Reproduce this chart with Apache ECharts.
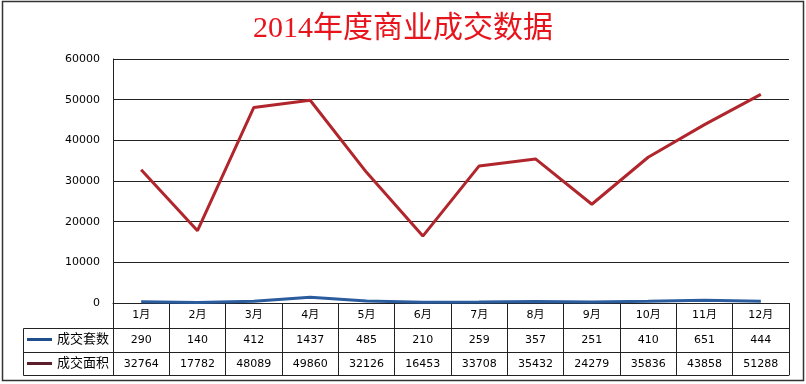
<!DOCTYPE html>
<html><head><meta charset="utf-8">
<script src="https://cdn.jsdelivr.net/npm/echarts@6/dist/echarts.min.js"></script>
<style>html,body{margin:0;padding:0;background:#fff}#c{width:806px;height:384px}</style>
</head><body><div id="c"></div>
<script>
const titleText = '2014年度商业成交数据';
const months = ['1月','2月','3月','4月','5月','6月','7月','8月','9月','10月','11月','12月'];
const seriesNames = ['成交套数','成交面积'];
const units = [290,140,412,1437,485,210,259,357,251,410,651,444];
const areas = [32764,17782,48089,49860,32126,16453,33708,35432,24279,35836,43858,51288];
const yMin = 0, yMax = 60000, yStep = 10000;

const numFont = 'DejaVu Sans';
const cjkFont = '"DejaVu Sans","Noto Sans CJK SC"';
const lineCol = '#222';

const chart = echarts.init(document.getElementById('c'), null, {renderer:'canvas'});
const baseX = (extra) => Object.assign({
  type:'category', gridIndex:0, position:'bottom', boundaryGap:true,
  axisLine:{show:true, lineStyle:{color:lineCol, width:1}},
  axisTick:{show:false},
  axisLabel:{margin:7, fontSize:11, color:'#000', fontFamily:cjkFont, interval:0},
  splitLine:{show:false}
}, extra);
const legendCommon = {left:27, orient:'vertical', padding:0, itemWidth:25, itemHeight:3, itemGap:0, icon:'rect',
  textStyle:{fontSize:13, color:'#000', fontFamily:cjkFont}};

chart.setOption({
  animation:false,
  backgroundColor:'#fff',
  title:{text:titleText, left:'center', top:9,
    textStyle:{fontSize:30, fontWeight:'normal', color:'#E8141C',
      fontFamily:'"Liberation Serif","Noto Sans CJK SC"'}},
  grid:{left:113, right:17, top:59, bottom:81, containLabel:false},
  legend:[
    Object.assign({top:333, data:[{name:seriesNames[0], itemStyle:{color:'#1F4E8C'}}]}, legendCommon),
    Object.assign({top:357, data:[{name:seriesNames[1], itemStyle:{color:'#5C1E2B'}}]}, legendCommon)
  ],
  xAxis:[
    baseX({data:months, axisTick:{show:true, length:72, inside:false, alignWithLabel:false, interval:0, lineStyle:{color:lineCol}}}),
    baseX({data:units.map(String), offset:25}),
    baseX({data:areas.map(String), offset:49}),
    baseX({data:months, offset:72, axisLabel:{show:false}})
  ],
  yAxis:{type:'value', min:yMin, max:yMax, interval:yStep,
    axisLine:{show:true, lineStyle:{color:lineCol}},
    axisTick:{show:false},
    axisLabel:{margin:13, fontSize:11, color:'#000', fontFamily:numFont, formatter:(v)=>String(v)},
    splitLine:{show:true, lineStyle:{color:lineCol, width:1}}},
  graphic:[
    {type:'rect', shape:{x:2.5, y:1.5, width:801, height:379}, style:{fill:null, stroke:'#333', lineWidth:1.5}, silent:true},
    {type:'polyline', shape:{points:[[113,328.5],[23.5,328.5],[23.5,375.5],[113,375.5]]}, style:{fill:null, stroke:lineCol, lineWidth:1}, silent:true},
    {type:'line', shape:{x1:23.5, y1:352.5, x2:113, y2:352.5}, style:{stroke:lineCol, lineWidth:1}, silent:true}
  ],
  series:[
    {name:seriesNames[0], type:'line', data:units, symbol:'none', xAxisIndex:0,
     lineStyle:{color:'#2A5C9E', width:3}, itemStyle:{color:'#2A5C9E'}},
    {name:seriesNames[1], type:'line', data:areas, symbol:'none', xAxisIndex:0,
     lineStyle:{color:'#B0262C', width:3}, itemStyle:{color:'#B0262C'}}
  ]
});
</script></body></html>
